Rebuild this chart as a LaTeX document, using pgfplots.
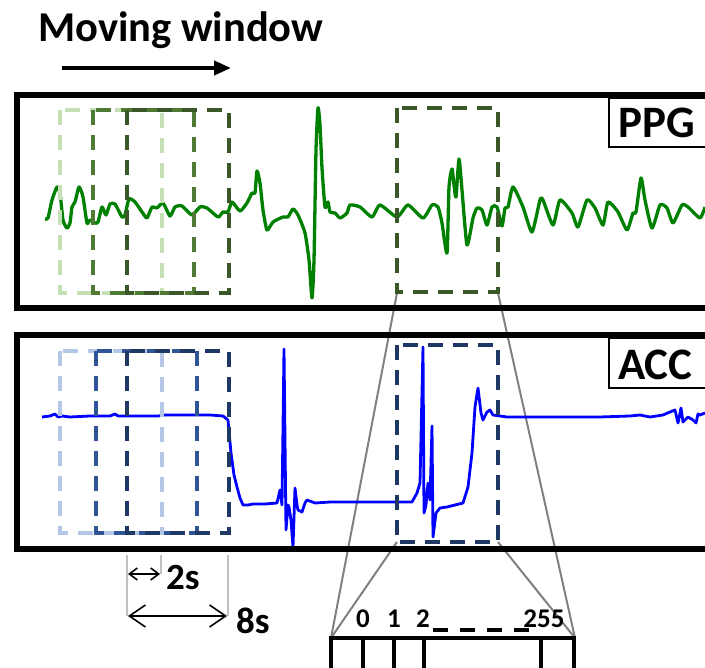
\documentclass[border=0pt]{standalone}
\usepackage{fontspec}
\setmainfont{Carlito}
\usepackage{pgfplots}
\pgfplotsset{compat=1.18}
\usetikzlibrary{arrows.meta}
\definecolor{lgreen}{HTML}{C5E0B4}
\definecolor{mgreen}{HTML}{4F7A33}
\definecolor{dgreen}{HTML}{3A5727}
\definecolor{lblue}{HTML}{B4C7E7}
\definecolor{mblue}{HTML}{2F5597}
\definecolor{dblue}{HTML}{203864}
\definecolor{ppgc}{HTML}{008000}
\definecolor{accc}{HTML}{0000FF}
\definecolor{gline}{HTML}{808080}
\definecolor{lgline}{HTML}{C0C0C0}
\begin{document}
\begin{tikzpicture}
\begin{axis}[scale only axis, width=705pt, height=668pt,
  xmin=0, xmax=705, ymin=0, ymax=668, y dir=reverse,
  axis lines=none, ticks=none]
\path (0,0) rectangle (705,668);
% projection lines
\draw[gline, line width=2pt] (397,293) -- (331,638);
\draw[gline, line width=2pt] (498,293) -- (575,638);
\draw[gline, line width=2pt] (397,542) -- (331,638);
\draw[gline, line width=2pt] (498,542) -- (575,638);
% PPG signal
\addplot[ppgc, line width=3.3pt, line join=round, no marks, smooth, tension=0.35] coordinates {
(45,219)(48,218)(52,200)(57,187)(60,193)(63,220)(67,228)(70,223)(72,207)(75,202)(79,187)(83,197)(87,223)(90,220)(95,223)(98,222)(102,207)(106,215)(110,204)(115,204)(122,217)(125,215)(129,199)(135,202)(142,212)(147,218)(152,207)(157,208)(163,203)(170,216)(175,207)(182,206)(192,215)(200,207)(207,208)(218,217)(223,212)(228,212)(232,202)(240,211)(247,203)(252,193)(255,193)(257,171)(260,183)(263,210)(267,230)(273,222)(283,217)(288,217)(293,209)(298,215)(305,233)(309,260)(312,298)(314,260)(316,150)(318,108)(320,125)(322,168)(325,207)(328,202)(330,212)(335,213)(340,218)(347,213)(350,205)(360,207)(372,217)(380,205)(397,217)(408,205)(423,218)(432,205)(438,207)(442,223)(447,253)(449,187)(452,169)(454,185)(456,197)(459,159)(462,190)(467,245)(473,218)(477,208)(482,210)(487,225)(492,207)(497,207)(502,226)(505,208)(508,207)(513,187)(523,207)(532,232)(540,200)(543,200)(553,225)(560,200)(572,213)(578,227)(587,200)(595,208)(603,225)(608,202)(618,212)(627,230)(633,213)(636,212)(641,178)(645,200)(652,228)(660,205)(667,208)(673,223)(682,205)(688,207)(700,218)(705,207)};
% ACC signal
\addplot[accc, line width=2.8pt, line join=round, no marks] coordinates {
(42,417)(50,416)(55,414)(58,417)(62,416)(70,417)(90,416)(110,416)(115,414)(118,416)(125,416)(145,416)(158,416)(165,415)(190,415)(210,415)(223,416)(228,420)(231,453)(234,475)(237,487)(240,498)(243,505)(248,505)(253,504)(265,504)(277,503)(280,490)(282,505)(284,349)(286,530)(288,505)(289,507)(291,520)(293,547)(295,488)(297,505)(298,510)(302,512)(305,503)(307,500)(315,503)(330,502)(350,502)(380,502)(412,502)(417,493)(420,483)(423,347)(424,513)(426,505)(428,483)(430,500)(432,426)(433,537)(436,513)(440,508)(447,507)(463,503)(468,487)(472,453)(475,407)(478,388)(481,413)(483,420)(487,412)(490,410)(493,415)(500,416)(507,417)(530,417)(560,417)(600,417)(630,416)(640,415)(650,417)(663,415)(670,412)(675,410)(678,423)(681,408)(683,422)(688,417)(693,420)(696,423)(698,414)(700,415)(705,413)};
% windows
\begin{scope}[line width=4.2pt, dash pattern=on 15pt off 10pt]
\draw[lgreen] (60,110) rectangle (162,293);
\draw[mgreen] (93,110) rectangle (194,293);
\draw[dgreen] (127,110) rectangle (229,293);
\draw[dgreen] (397,108) rectangle (498,292);
\draw[lblue] (60,351) rectangle (162,533);
\draw[mblue] (96,351) rectangle (197,533);
\draw[dblue] (127,351) rectangle (229,533);
\draw[dblue] (397,345) rectangle (498,542);
\end{scope}
% panel frames
\draw[black, line width=6pt] (720,95) -- (17,95) -- (17,308) -- (720,308);
\draw[black, line width=6pt] (720,335) -- (17,335) -- (17,549) -- (720,549);
% label boxes
\draw[black, line width=2pt, fill=white] (609,147) rectangle (720,98);
\node[anchor=base west, inner sep=0pt, font=\fontsize{45}{50}\selectfont\bfseries] at (618,138) {PPG};
\draw[black, line width=2pt, fill=white] (609,388) rectangle (720,338);
\node[anchor=base west, inner sep=0pt, font=\fontsize{45}{50}\selectfont\bfseries] at (618,380) {ACC};
% title and arrow
\node[anchor=base west, inner sep=0pt, font=\fontsize{42.5}{50}\selectfont\bfseries] at (38,42) {Moving window};
\draw[black, line width=4pt, -{Triangle[length=17pt,width=14pt]}] (62,68) -- (231,68);
% 2s / 8s annotation
\draw[lgline, line width=2pt] (127,555) -- (127,616);
\draw[lgline, line width=2pt] (161,555) -- (161,574);
\draw[lgline, line width=2pt] (228,555) -- (228,616);
\draw[black, line width=1.6pt, {Straight Barb[length=8pt,width=12pt]}-{Straight Barb[length=8pt,width=12pt]}] (128,574) -- (160,574);
\draw[black, line width=1.6pt, {Straight Barb[length=16pt,width=22pt]}-{Straight Barb[length=16pt,width=22pt]}] (128,616) -- (227,616);
\node[anchor=base west, inner sep=0pt, font=\fontsize{37}{40}\selectfont\bfseries] at (166,589) {2s};
\node[anchor=base west, inner sep=0pt, font=\fontsize{37}{40}\selectfont\bfseries] at (236,633) {8s};
% bottom array
\draw[black, line width=3.5pt] (329,638) -- (576,638);
\foreach \xx in {331,363,394,424,541,574} {
  \edef\temp{\noexpand\draw[black, line width=3.5pt] (\xx,637) -- (\xx,680);}
  \temp
}
\draw[black, line width=4pt, dash pattern=on 15pt off 12pt] (433,630) -- (535,630);
\node[anchor=base, inner sep=0pt, font=\fontsize{27}{30}\selectfont\bfseries] at (363,627) {0};
\node[anchor=base, inner sep=0pt, font=\fontsize{27}{30}\selectfont\bfseries] at (394,627) {1};
\node[anchor=base, inner sep=0pt, font=\fontsize{27}{30}\selectfont\bfseries] at (423,627) {2};
\node[anchor=base, inner sep=0pt, font=\fontsize{27}{30}\selectfont\bfseries] at (544,627) {255};
\end{axis}
\end{tikzpicture}
\end{document}
